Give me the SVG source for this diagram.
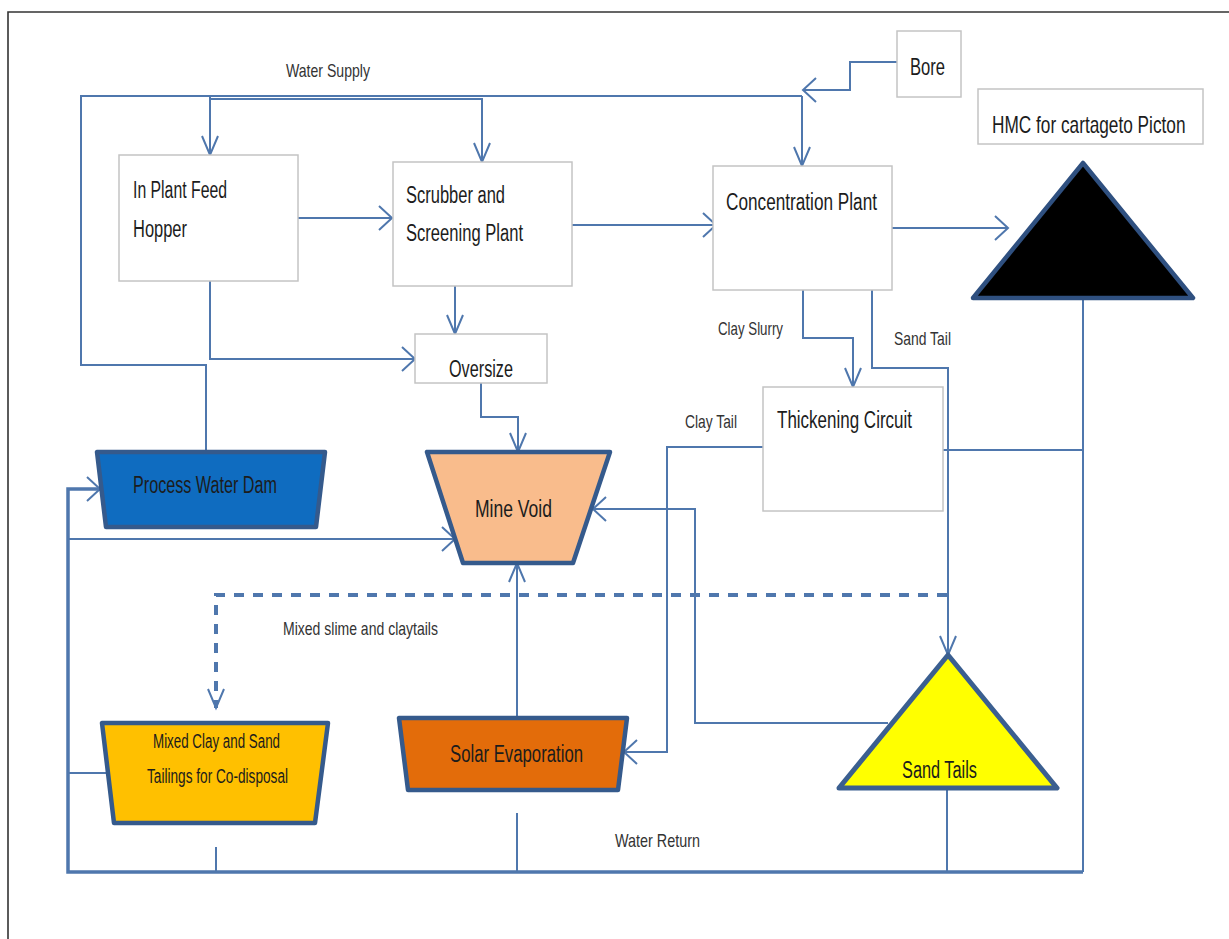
<svg xmlns="http://www.w3.org/2000/svg" width="1229" height="939" viewBox="0 0 1229 939">
<style>
.box{fill:#fff;stroke:#c4c4c4;stroke-width:1.5}
.t{font-family:"Liberation Sans",Arial,sans-serif;fill:#1c1c1c}
.n{font-size:23px}
.l{font-size:19px;fill:#333}
.c{fill:none;stroke:#4f77ad;stroke-width:2}
.thick{stroke-width:3.5}
.dash{stroke-width:4;stroke-dasharray:10 9}
.trap{stroke:#355a8c;stroke-width:4.5;stroke-linejoin:round}
</style>
<defs>
<marker id="ah" markerUnits="userSpaceOnUse" viewBox="0 0 14 24" markerWidth="14" markerHeight="24" refX="13" refY="12" orient="auto" overflow="visible">
<path d="M0,0 L13,12 L0,24" fill="none" stroke="#4f77ad" stroke-width="2"/>
</marker>
<marker id="av" markerUnits="userSpaceOnUse" viewBox="0 0 20 16" markerWidth="20" markerHeight="16" refX="19" refY="8" orient="auto" overflow="visible">
<path d="M0,0 L19,8 L0,16" fill="none" stroke="#4f77ad" stroke-width="2"/>
</marker>
</defs>
<rect width="1229" height="939" fill="#fff"/>
<path d="M8,939 V12 H1229" fill="none" stroke="#333" stroke-width="1.6"/>

<g id="connectors">
<path class="c" d="M206,452 V365 H81 V96 H802"/>
<path class="c" d="M210,96 V155" marker-end="url(#av)"/>
<path class="c" d="M210,99 H482 V162" marker-end="url(#av)"/>
<path class="c" d="M802,96 V166" marker-end="url(#av)"/>
<path class="c" d="M897,62 H850 V90 H803" marker-end="url(#ah)"/>
<path class="c" d="M298,218 H392" marker-end="url(#ah)"/>
<path class="c" d="M572,225 H716" marker-end="url(#ah)"/>
<path class="c" d="M892,228 H1008" marker-end="url(#ah)"/>
<path class="c" d="M455,286 V334" marker-end="url(#av)"/>
<path class="c" d="M210,281 V359 H415" marker-end="url(#ah)"/>
<path class="c" d="M481,383 V417 H518 V452" marker-end="url(#av)"/>
<path class="c" d="M803,290 V338 H853 V387" marker-end="url(#av)"/>
<path class="c" d="M872,290 V368 H948 V655" marker-end="url(#av)"/>
<path class="c" d="M763,447 H667 V752 H624" marker-end="url(#ah)"/>
<path class="c" d="M943,450 H1083"/>
<path class="c" d="M1083,298 V872"/>
<path class="c thick" d="M1083,872 H68 V489 H100" marker-end="url(#ah)"/>
<path class="c" d="M68,539 H455" marker-end="url(#ah)"/>
<path class="c" d="M888,723 H695 V509 H593" marker-end="url(#ah)"/>
<path class="c" d="M517,718 V563" marker-end="url(#av)"/>
<path class="c" d="M68,773 H108"/>
<path class="c" d="M216,847 V872"/>
<path class="c" d="M517,813 V872"/>
<path class="c" d="M947,788 V872"/>
<path class="c dash" d="M947,595 H216 V708" marker-end="url(#av)"/>
<text class="t l" x="286" y="77" textLength="84" lengthAdjust="spacingAndGlyphs">Water Supply</text>
<text class="t l" x="718" y="335" textLength="65" lengthAdjust="spacingAndGlyphs">Clay Slurry</text>
<text class="t l" x="894" y="345" textLength="57" lengthAdjust="spacingAndGlyphs">Sand Tail</text>
<text class="t l" x="685" y="428" textLength="52" lengthAdjust="spacingAndGlyphs">Clay Tail</text>
<text class="t l" x="283" y="635" textLength="155" lengthAdjust="spacingAndGlyphs">Mixed slime and claytails</text>
<text class="t l" x="615" y="847" textLength="85" lengthAdjust="spacingAndGlyphs">Water Return</text>
</g>

<g id="hopper">
<rect class="box" x="119" y="155" width="179" height="126"/>
<text class="t n" x="133" y="198" textLength="94" lengthAdjust="spacingAndGlyphs">In Plant Feed</text>
<text class="t n" x="133" y="237" textLength="54" lengthAdjust="spacingAndGlyphs">Hopper</text>
</g>
<g id="scrubber">
<rect class="box" x="393" y="162" width="179" height="124"/>
<text class="t n" x="406" y="203" textLength="99" lengthAdjust="spacingAndGlyphs">Scrubber and</text>
<text class="t n" x="406" y="241" textLength="117" lengthAdjust="spacingAndGlyphs">Screening Plant</text>
</g>
<g id="concentration">
<rect class="box" x="713" y="166" width="179" height="124"/>
<text class="t n" x="726" y="210" textLength="151" lengthAdjust="spacingAndGlyphs">Concentration Plant</text>
</g>
<g id="bore">
<rect class="box" x="897" y="31" width="64" height="66"/>
<text class="t n" x="910" y="75" textLength="35" lengthAdjust="spacingAndGlyphs">Bore</text>
</g>
<g id="hmc">
<rect class="box" x="978" y="89" width="225" height="55"/>
<text class="t n" transform="translate(992,133) scale(0.75,1)" x="0" y="0">HMC for cartageto Picton</text>
</g>
<g id="hmc-stockpile">
<polygon points="1083,163 1193,298 973,298" fill="#000" stroke="#2f5080" stroke-width="4.5" stroke-linejoin="round"/>
</g>
<g id="oversize">
<rect class="box" x="415" y="334" width="132" height="49"/>
<text class="t n" x="449" y="377" textLength="64" lengthAdjust="spacingAndGlyphs">Oversize</text>
</g>
<g id="thickening">
<rect class="box" x="763" y="387" width="180" height="124"/>
<text class="t n" x="777" y="428" textLength="135" lengthAdjust="spacingAndGlyphs">Thickening Circuit</text>
</g>
<g id="process-water-dam">
<polygon class="trap" points="97,452 325,452 316,527 106,527" fill="#0f6cc0"/>
<text class="t n" x="133" y="493" textLength="144" lengthAdjust="spacingAndGlyphs">Process Water Dam</text>
</g>
<g id="mine-void">
<polygon class="trap" points="427,452 610,452 573,563 463,563" fill="#f9bc8c" stroke-width="5.5"/>
<text class="t n" x="475" y="517" textLength="77" lengthAdjust="spacingAndGlyphs" fill="#2a1a10">Mine Void</text>
</g>
<g id="mixed-clay-sand">
<polygon class="trap" points="102,723 328,723 315,823 114,823" fill="#ffc000"/>
<text class="t" font-size="20" x="153" y="748" textLength="127" lengthAdjust="spacingAndGlyphs">Mixed Clay and Sand</text>
<text class="t" font-size="20" x="147" y="783" textLength="141" lengthAdjust="spacingAndGlyphs">Tailings for Co-disposal</text>
</g>
<g id="solar-evaporation">
<polygon class="trap" points="399,718 627,718 618,790 408,790" fill="#e36c0a"/>
<text class="t n" x="450" y="762" textLength="133" lengthAdjust="spacingAndGlyphs">Solar Evaporation</text>
</g>
<g id="sand-tails">
<polygon points="948,655 1057,788 839,788" fill="#ffff00" stroke="#3b5f90" stroke-width="5" stroke-linejoin="round"/>
<text class="t n" x="902" y="778" textLength="75" lengthAdjust="spacingAndGlyphs">Sand Tails</text>
</g>
</svg>
